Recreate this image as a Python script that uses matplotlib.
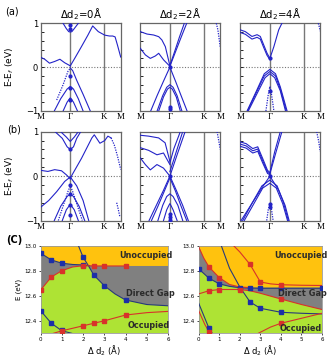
import numpy as np
import matplotlib.pyplot as plt
from matplotlib.ticker import MultipleLocator

# ---- band structure data: (k, E), k: M=0, G=0.37, K=0.79, M=1
kG, kK = 0.37, 0.79
titles = ["\u0394d$_2$=0\u00c5", "\u0394d$_2$=2\u00c5", "\u0394d$_2$=4\u00c5"]

bands_a0 = [
    ([0.0, 0.05, 0.11, 0.175, 0.24, 0.30, 0.37], [0.225, 0.18, 0.09, 0.13, 0.18, 0.10, 0.03]),
    ([0.37, 0.425, 0.51, 0.59, 0.65, 0.72, 0.80, 0.86, 0.90, 0.93, 0.96, 1.0],
     [0.03, 0.20, 0.47, 0.73, 0.94, 0.81, 0.73, 0.71, 0.71, 0.69, 0.50, 0.23]),
    ([0.28, 0.32, 0.35, 0.37, 0.39, 0.42, 0.47], [1.0, 0.88, 0.81, 0.80, 0.81, 0.88, 1.0]),
    ([0.37, 0.40, 0.45, 0.53, 0.62], [-0.02, -0.08, -0.30, -0.62, -1.0]),
    ([0.17, 0.25, 0.33, 0.37, 0.41, 0.47, 0.53], [-1.0, -0.72, -0.50, -0.44, -0.50, -0.72, -1.0]),
    ([0.28, 0.33, 0.36, 0.37, 0.38, 0.41, 0.46], [-1.0, -0.80, -0.72, -0.70, -0.72, -0.80, -1.0]),
]
dotted_a0 = [([0.20, 0.28, 0.34, 0.37], [-0.75, -0.40, -0.10, -0.02])]
dots_a0 = [0.95, 0.87, -0.20, -0.48, -0.75]

bands_a1 = [
    ([0.0, 0.084, 0.167, 0.23, 0.27, 0.313, 0.37], [0.81, 0.755, 0.733, 0.695, 0.62, 0.467, 0.03]),
    ([0.0, 0.063, 0.125, 0.188, 0.23, 0.292, 0.37], [0.43, 0.28, 0.20, 0.255, 0.316, 0.164, 0.02]),
    ([0.37, 0.44, 0.51, 0.58], [0.02, 0.35, 0.68, 1.0]),
    ([0.37, 0.43, 0.49, 0.55], [0.04, 0.36, 0.69, 1.0]),
    ([0.37, 0.44, 0.51, 0.585], [0.0, -0.32, -0.65, -1.0]),
    ([0.37, 0.29, 0.21, 0.13], [0.0, -0.32, -0.65, -1.0]),
    ([0.21, 0.28, 0.33, 0.37, 0.41, 0.46, 0.52], [-1.0, -0.65, -0.46, -0.40, -0.46, -0.65, -1.0]),
    ([0.23, 0.29, 0.34, 0.37, 0.40, 0.45, 0.50], [-1.0, -0.68, -0.50, -0.46, -0.50, -0.68, -1.0]),
]
dotted_a1 = [([0.95, 0.97, 0.985, 1.0], [1.0, 0.85, 0.65, 0.45])]
dots_a1 = [0.0, -0.90, -0.96]

bands_a2 = [
    ([0.0, 0.063, 0.146, 0.21, 0.25, 0.292, 0.334, 0.37], [0.85, 0.81, 0.70, 0.74, 0.70, 0.51, 0.32, 0.20]),
    ([0.0, 0.063, 0.146, 0.21, 0.25, 0.292, 0.334, 0.37], [0.79, 0.75, 0.64, 0.68, 0.64, 0.45, 0.27, 0.17]),
    ([0.37, 0.42, 0.48, 0.52], [0.20, 0.47, 0.85, 1.0]),
    ([0.085, 0.20, 0.30, 0.37, 0.44, 0.50, 0.585], [-1.0, -0.55, -0.15, -0.05, -0.15, -0.45, -1.0]),
    ([0.09, 0.20, 0.30, 0.37, 0.44, 0.50, 0.575], [-1.0, -0.58, -0.20, -0.10, -0.20, -0.50, -1.0]),
    ([0.10, 0.21, 0.31, 0.37, 0.43, 0.50, 0.565], [-1.0, -0.60, -0.24, -0.15, -0.24, -0.54, -1.0]),
]
dotted_a2 = [([0.32, 0.35, 0.37, 0.39, 0.42], [-1.0, -0.62, -0.44, -0.62, -1.0]),
             ([0.975, 0.99, 1.0], [1.0, 0.9, 0.82])]
dots_a2 = [0.20, -0.55]

bands_b0 = [
    ([0.0, 0.09, 0.175, 0.26, 0.32, 0.37], [0.13, 0.105, 0.145, 0.12, 0.03, -0.06]),
    ([0.37, 0.39, 0.51, 0.64, 0.67, 0.74, 0.80, 0.84, 0.88], [-0.06, 0.02, 0.40, 0.86, 0.93, 0.74, 0.80, 0.90, 0.86]),
    ([0.18, 0.27, 0.33, 0.37, 0.41, 0.45, 0.50], [1.0, 0.85, 0.66, 0.60, 0.66, 0.85, 1.0]),
    ([0.25, 0.32, 0.36, 0.37, 0.38, 0.42, 0.47], [1.0, 0.88, 0.80, 0.78, 0.80, 0.88, 1.0]),
    ([0.0, 0.10, 0.20, 0.30, 0.37], [-0.70, -0.55, -0.35, -0.12, -0.02]),
    ([0.37, 0.45, 0.53, 0.60], [-0.02, -0.22, -0.55, -1.0]),
    ([0.17, 0.25, 0.33, 0.37, 0.41, 0.48, 0.55], [-1.0, -0.68, -0.46, -0.40, -0.46, -0.68, -1.0]),
    ([0.27, 0.32, 0.36, 0.37, 0.38, 0.42, 0.47], [-1.0, -0.76, -0.66, -0.64, -0.66, -0.76, -1.0]),
]
dotted_b0 = [([0.88, 0.92, 0.96, 1.0], [0.86, 0.70, 0.45, 0.15]),
             ([0.22, 0.29, 0.34, 0.37, 0.40, 0.45, 0.52], [-1.0, -0.62, -0.35, -0.22, -0.35, -0.62, -1.0]),
             ([0.95, 0.97, 0.99], [-0.6, -0.75, -0.92])]
dots_b0 = [0.60, -0.20, -0.40, -0.64, -0.88]

bands_b1 = [
    ([0.0, 0.104, 0.229, 0.31, 0.37], [0.92, 0.90, 0.86, 0.75, 0.33]),
    ([0.0, 0.104, 0.208, 0.29, 0.37], [0.64, 0.58, 0.48, 0.52, 0.26]),
    ([0.0, 0.063, 0.125, 0.208, 0.29, 0.37], [0.41, 0.26, 0.14, 0.26, 0.18, 0.0]),
    ([0.37, 0.42, 0.50], [0.30, 0.62, 1.0]),
    ([0.37, 0.45, 0.53], [0.10, 0.55, 1.0]),
    ([0.37, 0.46, 0.56], [0.0, 0.48, 1.0]),
    ([0.37, 0.29, 0.20, 0.11], [0.0, -0.32, -0.66, -1.0]),
    ([0.37, 0.30, 0.22, 0.14], [-0.04, -0.34, -0.68, -1.0]),
    ([0.37, 0.45, 0.53, 0.60], [0.0, -0.32, -0.66, -1.0]),
    ([0.37, 0.44, 0.51, 0.58], [-0.04, -0.34, -0.68, -1.0]),
    ([0.22, 0.28, 0.33, 0.37, 0.41, 0.47, 0.53], [-1.0, -0.66, -0.46, -0.40, -0.46, -0.66, -1.0]),
    ([0.29, 0.33, 0.36, 0.37, 0.38, 0.41, 0.46], [-1.0, -0.76, -0.65, -0.62, -0.65, -0.76, -1.0]),
]
dotted_b1 = [([0.96, 0.98, 1.0], [1.0, 0.80, 0.60])]
dots_b1 = [0.0, -0.85, -0.93, -0.99]

bands_b2 = [
    ([0.0, 0.074, 0.156, 0.218, 0.279, 0.34, 0.37], [0.77, 0.73, 0.62, 0.66, 0.40, 0.13, 0.08]),
    ([0.0, 0.074, 0.156, 0.218, 0.279, 0.34, 0.37], [0.72, 0.68, 0.57, 0.61, 0.35, 0.09, 0.05]),
    ([0.0, 0.074, 0.156, 0.218, 0.279, 0.34, 0.37], [0.67, 0.63, 0.52, 0.56, 0.30, 0.06, 0.03]),
    ([0.37, 0.43, 0.50], [0.08, 0.55, 1.0]),
    ([0.37, 0.44, 0.52], [0.05, 0.50, 1.0]),
    ([0.37, 0.25, 0.13, 0.01], [0.0, -0.32, -0.66, -1.0]),
    ([0.37, 0.48, 0.56, 0.61], [0.0, -0.32, -0.66, -1.0]),
    ([0.03, 0.15, 0.27, 0.37, 0.46, 0.54, 0.60], [-1.0, -0.60, -0.22, -0.09, -0.22, -0.60, -1.0]),
    ([0.05, 0.17, 0.28, 0.37, 0.45, 0.53, 0.59], [-1.0, -0.62, -0.27, -0.16, -0.27, -0.62, -1.0]),
]
dotted_b2 = [([0.33, 0.35, 0.37, 0.39, 0.41], [-1.0, -0.75, -0.62, -0.75, -1.0]),
             ([0.955, 0.98, 1.0], [1.0, 0.78, 0.55])]
dots_b2 = [0.0, -0.62, -0.70]

# ---- panel (c) data
x_cl_up = [0, 0.5, 1, 1.5, 2, 2.3]
e_cl_up = [12.94, 12.886, 12.86, 12.85, 12.846, 12.84]
x_cl_dn = [1.78, 2, 2.25, 2.5, 3, 3.5, 4, 5, 6]
e_cl_dn = [13.0, 12.907, 12.84, 12.766, 12.68, 12.615, 12.566, 12.53, 12.52]
x_cl_red = [0, 0.5, 1, 1.5, 2, 2.5, 3, 4]
e_cl_red = [12.646, 12.75, 12.80, 12.83, 12.84, 12.838, 12.838, 12.838]
x_cl_low = [0, 0.5, 1, 1.46]
e_cl_low = [12.48, 12.38, 12.32, 12.30]
x_cl_lowred = [0.6, 1, 2, 2.5, 3, 4, 5, 6]
e_cl_lowred = [12.30, 12.32, 12.36, 12.38, 12.40, 12.446, 12.465, 12.475]
x_cl_orange = [0, 0.5, 1, 1.5, 2, 2.5, 3, 4, 5, 6]
e_cl_orange = [12.94, 12.886, 12.86, 12.85, 12.845, 12.84, 12.838, 12.838, 12.838, 12.838]
x_cl_green = [0, 0.5, 1, 1.5, 2, 2.25, 2.5, 3, 3.5, 4, 5, 6]
e_cl_green = [12.646, 12.75, 12.80, 12.83, 12.84, 12.84, 12.766, 12.68, 12.615, 12.566, 12.53, 12.52]
bx_cl = [0, 0.5, 1, 2, 2, 2.5, 3, 4, 0, 0.5, 1]
be_cl = [12.94, 12.886, 12.86, 12.907, 12.846, 12.766, 12.68, 12.566, 12.48, 12.38, 12.325]
rx_cl = [0, 0.5, 1, 2, 2.5, 3, 4, 1, 2, 2.5, 3, 4]
re_cl = [12.646, 12.75, 12.80, 12.84, 12.838, 12.838, 12.838, 12.318, 12.36, 12.38, 12.40, 12.446]

x_cr_up = [0, 0.5, 1, 1.5, 2, 2.5, 3, 4, 5, 6]
e_cr_up = [12.815, 12.74, 12.695, 12.675, 12.665, 12.662, 12.66, 12.66, 12.66, 12.66]
x_cr_dn = [1.1, 1.5, 2, 2.5, 3, 4, 5, 6]
e_cr_dn = [13.0, 12.82, 12.67, 12.55, 12.50, 12.468, 12.46, 12.455]
x_cr_wedge = [0, 0.25, 0.5, 1, 1.5, 2, 2.5]
e_cr_wedge = [12.99, 12.90, 12.83, 12.745, 12.69, 12.67, 12.665]
x_cr_redmid = [0, 0.5, 1, 2, 2.5, 3, 4, 5, 6]
e_cr_redmid = [12.615, 12.64, 12.65, 12.65, 12.64, 12.62, 12.574, 12.53, 12.49]
x_cr_redtop = [1.7, 2.0, 2.5, 3, 3.5, 4, 5, 6]
e_cr_redtop = [13.0, 12.95, 12.85, 12.71, 12.695, 12.688, 12.684, 12.682]
x_cr_lowblue = [0, 0.5, 0.66]
e_cr_lowblue = [12.54, 12.34, 12.30]
x_cr_lowred = [0, 0.3, 0.55]
e_cr_lowred = [12.48, 12.37, 12.30]
x_cr_lowred2 = [2.9, 3.5, 4, 5, 6]
e_cr_lowred2 = [12.30, 12.35, 12.38, 12.42, 12.46]
x_cr_orange = [0, 0.25, 0.5, 1, 1.5, 2, 2.5, 3, 4, 5, 6]
e_cr_orange = [13.0, 12.90, 12.83, 12.745, 12.69, 12.67, 12.665, 12.665, 12.665, 12.665, 12.665]
x_cr_green = [0, 0.5, 1, 1.5, 2, 2.5, 3, 4, 5, 6]
e_cr_green = [12.815, 12.74, 12.695, 12.675, 12.655, 12.64, 12.62, 12.574, 12.53, 12.49]
bx_cr = [0, 0.5, 1, 2, 2.5, 3, 4, 6, 2.5, 3, 4, 0.5]
be_cr = [12.815, 12.74, 12.695, 12.665, 12.662, 12.66, 12.66, 12.66, 12.55, 12.50, 12.468, 12.34]
rx_cr = [0.5, 1, 0.5, 1, 2, 4, 2.5, 3, 4, 0.5, 4]
re_cr = [12.83, 12.745, 12.64, 12.65, 12.65, 12.574, 12.85, 12.71, 12.688, 12.31, 12.38]

BLUE = "#2323c8"
NAVY = "#283a7a"
RED = "#d8322a"
ORANGE = "#ffc20e"
GRAY = "#808080"
GREEN = "#aee334"

fig = plt.figure(figsize=(3.32, 3.58), dpi=100)


def add_px(x0, y0, x1, y1):
    return fig.add_axes([x0 / 332, 1 - y1 / 358, (x1 - x0) / 332, (y1 - y0) / 358])


def band_panel(ax, bands, dotted, dots, first):
    ax.axvline(kG, color="#777777", lw=1.0, zorder=1)
    ax.axvline(kK, color="#777777", lw=1.0, zorder=1)
    ax.axhline(0, color="#777777", lw=0.8, ls=(0, (1, 1.5)), zorder=1)
    for k, e in bands:
        ax.plot(k, e, color=BLUE, lw=0.8, zorder=3)
    for k, e in dotted:
        ax.plot(k, e, color=BLUE, lw=0.9, ls=(0, (1, 1)), zorder=3)
    ax.plot([kG] * len(dots), dots, "o", color=BLUE, ms=2.0, zorder=4)
    ax.set_xlim(0, 1)
    ax.set_ylim(-1, 1)
    ax.set_xticks([0, kG, kK, 1])
    ax.set_xticklabels(["M", "\u0393", "K", "M"], family="Liberation Serif", fontsize=6.5)
    ax.tick_params(axis="x", length=0, pad=1.5)
    ax.set_yticks([-1, 0, 1])
    ax.yaxis.set_minor_locator(MultipleLocator(0.2))
    ax.tick_params(axis="y", which="both", direction="in", length=2, width=0.6, labelsize=6, pad=2)
    if not first:
        ax.set_yticklabels([])
    for s in ax.spines.values():
        s.set_color("#666666")
        s.set_linewidth(0.9)


xs = [(40.7, 120.7), (140.3, 220.3), (240.3, 320.3)]
for i, (bands, dotted, dots) in enumerate([(bands_a0, dotted_a0, dots_a0),
                                           (bands_a1, dotted_a1, dots_a1),
                                           (bands_a2, dotted_a2, dots_a2)]):
    ax = add_px(xs[i][0], 23.3, xs[i][1], 111)
    band_panel(ax, bands, dotted, dots, i == 0)
    ax.set_title(titles[i], fontsize=7.3, pad=4)
for i, (bands, dotted, dots) in enumerate([(bands_b0, dotted_b0, dots_b0),
                                           (bands_b1, dotted_b1, dots_b1),
                                           (bands_b2, dotted_b2, dots_b2)]):
    ax = add_px(xs[i][0], 131.7, xs[i][1], 220.5)
    band_panel(ax, bands, dotted, dots, i == 0)

fig.text(12 / 332, 1 - 12 / 358, "(a)", fontsize=7, va="center", ha="center")
fig.text(14 / 332, 1 - 130 / 358, "(b)", fontsize=7, va="center", ha="center")
fig.text(14 / 332, 1 - 240 / 358, "(C)", fontsize=7, fontweight="bold", va="center", ha="center")
fig.text(10 / 332, 1 - 67 / 358, "E-E$_f$ (eV)", fontsize=6.5, rotation=90, va="center", ha="center")
fig.text(10 / 332, 1 - 176 / 358, "E-E$_f$ (eV)", fontsize=6.5, rotation=90, va="center", ha="center")


def gap_panel(ax, xo, eo, xg, eg, lines, bx, be, rx, re, labels):
    ax.set_facecolor(GRAY)
    ax.fill(list(xo) + [6, 0], list(eo) + [13.0, 13.0], color=ORANGE, lw=0, zorder=1)
    ax.fill(list(xg) + [6, 0], list(eg) + [12.3, 12.3], color=GREEN, lw=0, zorder=1)
    for x, e, c in lines:
        ax.plot(x, e, color=c, lw=0.8, zorder=3)
    ax.plot(bx, be, "s", color="#1c2fa8", ms=2.4, zorder=4)
    ax.plot(rx, re, "s", color=RED, ms=2.4, zorder=4)
    for (tx, ty, t) in labels:
        ax.text(tx, ty, t, fontsize=5.9, fontweight="bold", color="#2b2b2b", ha="center", va="center", zorder=5)
    ax.set_xlim(0, 6)
    ax.set_ylim(12.3, 13.0)
    ax.set_xticks(range(7))
    ax.set_yticks([12.4, 12.6, 12.8, 13.0])
    ax.tick_params(labelsize=4, length=1.5, width=0.5, pad=1.5)
    for s in ax.spines.values():
        s.set_color("#999999")
        s.set_linewidth(0.6)
    ax.set_xlabel("\u0394 d$_2$ (\u00c5)", fontsize=6, labelpad=1)
    ax.set_ylabel("E (eV)", fontsize=5, labelpad=2)


axl = add_px(40.7, 245.7, 168, 333.3)
gap_panel(axl, x_cl_orange, e_cl_orange, x_cl_green, e_cl_green,
          [(x_cl_up, e_cl_up, NAVY), (x_cl_dn, e_cl_dn, NAVY), (x_cl_red, e_cl_red, RED),
           (x_cl_low, e_cl_low, NAVY), (x_cl_lowred, e_cl_lowred, RED)],
          bx_cl, be_cl, rx_cl, re_cl,
          [(4.95, 12.925, "Unoccupied"), (5.15, 12.62, "Direct Gap"), (5.1, 12.36, "Occupied")])

axr = add_px(198.7, 245.7, 322, 333.3)
gap_panel(axr, x_cr_orange, e_cr_orange, x_cr_green, e_cr_green,
          [(x_cr_up, e_cr_up, NAVY), (x_cr_dn, e_cr_dn, NAVY), (x_cr_wedge, e_cr_wedge, RED),
           (x_cr_redmid, e_cr_redmid, RED), (x_cr_redtop, e_cr_redtop, RED),
           (x_cr_lowblue, e_cr_lowblue, NAVY), (x_cr_lowred, e_cr_lowred, RED),
           (x_cr_lowred2, e_cr_lowred2, RED)],
          bx_cr, be_cr, rx_cr, re_cr,
          [(4.98, 12.925, "Unoccupied"), (5.06, 12.62, "Direct Gap"), (4.98, 12.34, "Occupied")])
axr.set_ylabel("")

fig.savefig("out.png", dpi=100)
